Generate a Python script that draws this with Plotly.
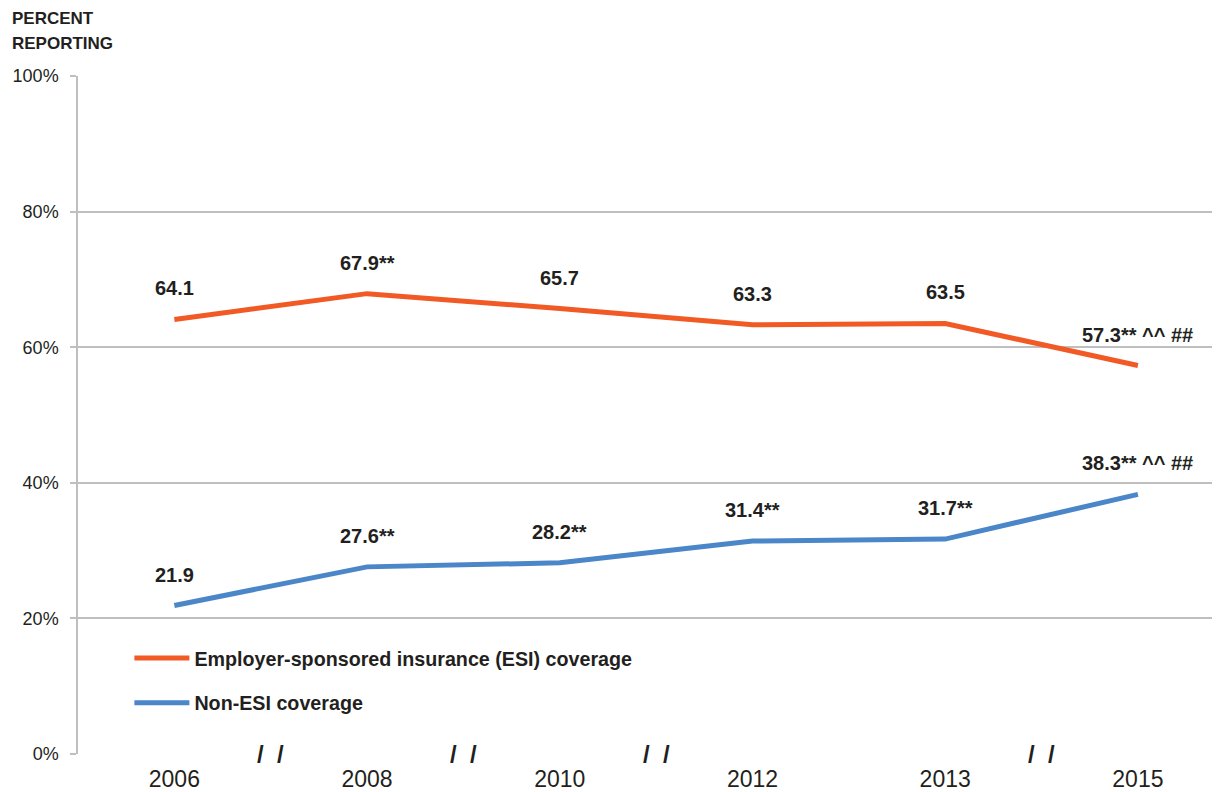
import plotly.graph_objects as go

years = ["2006", "2008", "2010", "2012", "2013", "2015"]
esi = [64.1, 67.9, 65.7, 63.3, 63.5, 57.3]
non_esi = [21.9, 27.6, 28.2, 31.4, 31.7, 38.3]
esi_labels = ["64.1", "67.9**", "65.7", "63.3", "63.5", "57.3** ^^ ##"]
non_esi_labels = ["21.9", "27.6**", "28.2**", "31.4**", "31.7**", "38.3** ^^ ##"]
y_ticks = [0, 20, 40, 60, 80, 100]
y_tick_text = ["0%", "20%", "40%", "60%", "80%", "100%"]
title_lines = ["PERCENT", "REPORTING"]

ORANGE = "#F15A24"
BLUE = "#4A86C8"
GRID = "#BFBFBF"
TEXT = "#231F20"
FONT = "Liberation Sans Narrow, Arial Narrow, Liberation Sans, Arial, sans-serif"

fig = go.Figure()
fig.add_trace(go.Scatter(x=years, y=esi, mode="lines",
                         name="<b>Employer-sponsored insurance (ESI) coverage</b>",
                         line=dict(color=ORANGE, width=5), legendgroup="a"))
fig.add_trace(go.Scatter(x=years, y=non_esi, mode="lines", name="<b>Non-ESI coverage</b>",
                         line=dict(color=BLUE, width=5), legendgroup="b"))

annotations = []
for i, (v, t) in enumerate(zip(esi, esi_labels)):
    annotations.append(dict(x=i, y=v, xref="x", yref="y", text="<b>%s</b>" % t,
                            showarrow=False, yshift=31,
                            font=dict(size=20, color=TEXT, family=FONT)))
for i, (v, t) in enumerate(zip(non_esi, non_esi_labels)):
    annotations.append(dict(x=i, y=v, xref="x", yref="y", text="<b>%s</b>" % t,
                            showarrow=False, yshift=31,
                            font=dict(size=20, color=TEXT, family=FONT)))

# axis break marks where years are not consecutive
for i in range(len(years) - 1):
    if int(years[i + 1]) - int(years[i]) > 1:
        annotations.append(dict(x=i + 0.5, y=0, xref="x", yref="y", text="<b>/  /</b>",
                                showarrow=False, bgcolor="white", borderpad=0,
                                font=dict(size=24, color=TEXT, family=FONT)))

for k, line in enumerate(title_lines):
    annotations.append(dict(xref="paper", yref="paper", x=-68 / 1142,
                            y=1 + (58 - 25 * k) / 678,
                            xanchor="left", yanchor="middle", align="left", showarrow=False,
                            text="<b>%s</b>" % line,
                            font=dict(size=17, color=TEXT, family=FONT)))

fig.update_layout(
    width=1212, height=784,
    margin=dict(l=70, r=0, t=68, b=38),
    plot_bgcolor="white", paper_bgcolor="white",
    font=dict(family=FONT, color=TEXT),
    annotations=annotations,
    showlegend=True,
    legend=dict(x=0.045, y=0.17, xanchor="left", yanchor="top",
                font=dict(size=19.7, color=TEXT, family=FONT), itemwidth=55,
                tracegroupgap=16, traceorder="grouped", bgcolor="rgba(0,0,0,0)"),
    xaxis=dict(type="category", range=[-0.5, 5.426], showgrid=False, showline=False,
               ticks="", tickfont=dict(size=23, color=TEXT, family=FONT), zeroline=False,
               ticklabelstandoff=9),
    yaxis=dict(range=[0, 100], tickvals=y_ticks, ticktext=y_tick_text, showgrid=True,
               gridcolor=GRID, gridwidth=1.5, showline=True, linecolor=GRID, linewidth=1.5,
               ticks="outside", ticklen=6, tickcolor=GRID, tickwidth=1.5,
               tickfont=dict(size=18, color=TEXT, family=FONT), zeroline=False,
               ticklabelstandoff=8),
)

fig.write_html("out.html")
